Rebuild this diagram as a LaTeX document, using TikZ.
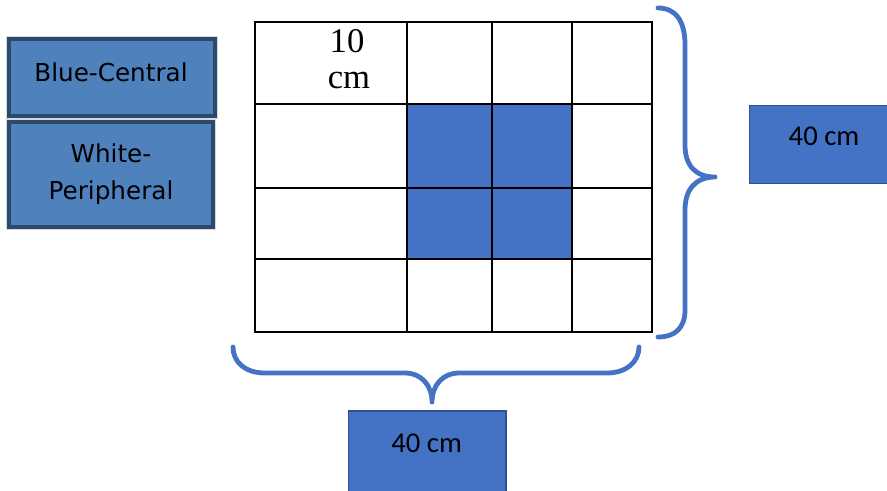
\documentclass[tikz,border=0pt]{standalone}
\usepackage{fontspec}
\setmainfont{Liberation Serif}
\newfontfamily\calib{Carlito}
\newfontfamily\dvs{DejaVu Sans}
\definecolor{obl}{HTML}{4472C4}
\definecolor{obldark}{HTML}{2F528F}
\definecolor{legfill}{HTML}{4F81BD}
\definecolor{legdraw}{HTML}{2C4A6E}
\tikzset{
  gridline/.style={draw=black, line width=1.5pt},
  bluecell/.style={fill=obl},
  bracestyle/.style={draw=obl, line width=3.6pt, line cap=round, line join=round},
  valbox/.style={fill=obl, draw=obldark, line width=0.8pt},
  legbox/.style={fill=legfill, draw=legdraw, line width=3pt},
  legtext/.style={font=\dvs\fontsize{18.5}{28}\selectfont, text=black, align=center},
  valtext/.style={font=\calib\fontsize{21.5}{24}\selectfont, text=black},
  cmtext/.style={font=\fontsize{26}{27}\selectfont, text=black, anchor=base}
}
\begin{document}
\begin{tikzpicture}[x=0.75pt, y=-0.75pt]
\clip (0,0) rectangle (887,491);
\fill[white] (0,0) rectangle (887,491);
% blue cells
\fill[bluecell] (406.7,104) rectangle (572,259.3);
% grid
\draw[gridline] (255,22.3) rectangle (652,331.7);
\foreach \xx in {406.7,491.7,572} \draw[gridline] (\xx,22.3) -- (\xx,331.7);
\foreach \yy in {104,187.7,259.3} \draw[gridline] (255,\yy) -- (652,\yy);
% cell label
\node[cmtext] (ten) at (347,52.7) {10};
\node[cmtext] (cm) at (349,88.3) {cm};
% legend boxes
\draw[gray!30, line width=0.8pt] (6.5,36.5) rectangle (217.5,118.5);
\draw[legbox] (9,39) rectangle (215,116);
\node[legtext] (blue) at (111,72) {Blue-Central};
\draw[gray!30, line width=0.8pt] (6.5,119.2) rectangle (215.5,229.2);
\draw[legbox] (9,121.7) rectangle (213,226.7);
\node[legtext] (white) at (111,174) {White-\\Peripheral};
% right brace
\draw[bracestyle] (658,8) .. controls (675,8) and (685,20) .. (685,45) -- (685,145)
  .. controls (685,166) and (696,177) .. (715,177)
  .. controls (696,177) and (685,189) .. (685,210) -- (685,310)
  .. controls (685,328) and (675,337) .. (658,337);
% bottom brace
\draw[bracestyle] (233,347) .. controls (233,362) and (245,373) .. (265,373) -- (405,373)
  .. controls (421,373) and (432,385) .. (432,402)
  .. controls (432,385) and (443,373) .. (459,373) -- (607,373)
  .. controls (626,373) and (639,362) .. (639,347);
% value boxes
\draw[valbox] (749.3,105.3) rectangle (900,183.3);
\node[valtext] (rlabel) at (824,136.7) {40 cm};
\draw[valbox] (348.3,411) rectangle (506,505);
\node[valtext] (blabel) at (426.7,443.3) {40 cm};
\end{tikzpicture}
\end{document}
